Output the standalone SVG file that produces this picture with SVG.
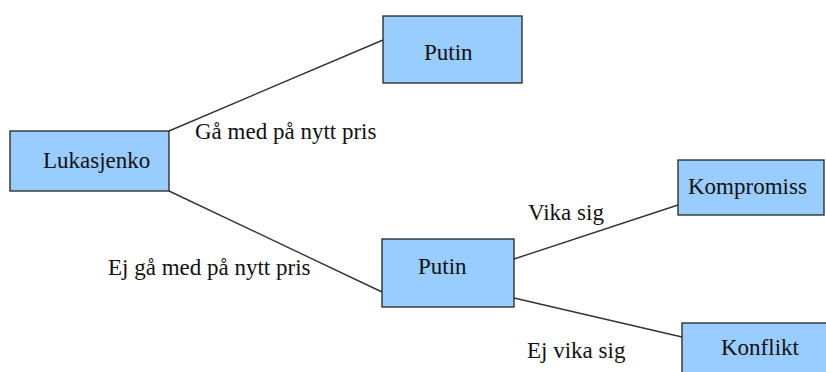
<svg xmlns="http://www.w3.org/2000/svg" width="826" height="372" viewBox="0 0 826 372">
<style>
.box{fill:#99ccff;stroke:#222;stroke-width:1.3}
.lbl{font-family:"Liberation Serif","Times New Roman",serif;font-size:23px;fill:#111}
.edge{stroke:#333;stroke-width:1.4;fill:none}
</style>
<rect width="826" height="372" fill="#fff"/>
<g id="connectors">
<line class="edge" x1="169" y1="131" x2="383" y2="40"/>
<line class="edge" x1="169" y1="191" x2="382" y2="292"/>
<line class="edge" x1="514" y1="259" x2="678" y2="205"/>
<line class="edge" x1="514" y1="298" x2="682" y2="337"/>
<text class="lbl" x="195" y="139">Gå med på nytt pris</text>
<text class="lbl" x="108" y="275">Ej gå med på nytt pris</text>
<text class="lbl" x="528" y="220">Vika sig</text>
<text class="lbl" x="527" y="358">Ej vika sig</text>
</g>
<g id="lukasjenko">
<rect class="box" x="10" y="131" width="159" height="60"/>
<text class="lbl" x="43" y="168">Lukasjenko</text>
</g>
<g id="putin1">
<rect class="box" x="383" y="16" width="139" height="67"/>
<text class="lbl" x="424" y="60">Putin</text>
</g>
<g id="putin2">
<rect class="box" x="382" y="239" width="132" height="68"/>
<text class="lbl" x="418" y="274">Putin</text>
</g>
<g id="kompromiss">
<rect class="box" x="678" y="160" width="146" height="55"/>
<text class="lbl" x="688" y="194">Kompromiss</text>
</g>
<g id="konflikt">
<rect class="box" x="682" y="323" width="150" height="60"/>
<text class="lbl" x="721" y="355">Konflikt</text>
</g>
</svg>
